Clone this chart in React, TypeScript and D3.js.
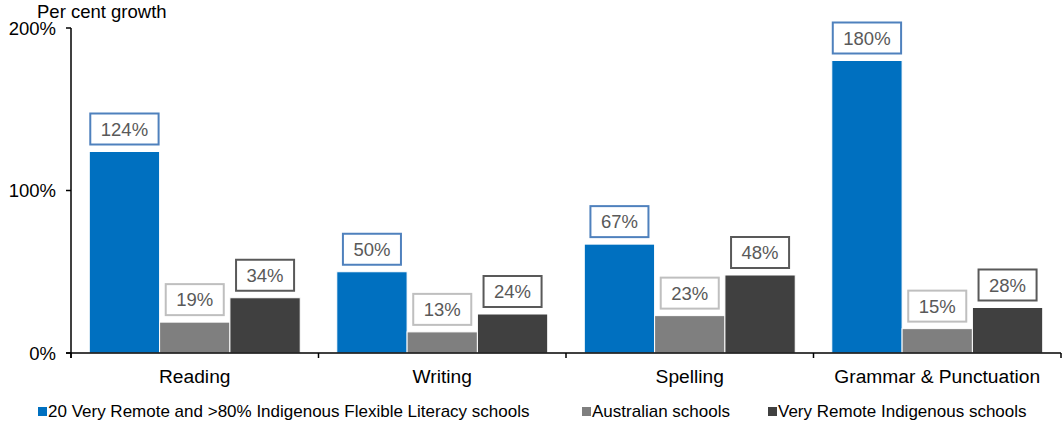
import React from "react";
import * as d3 from "d3";

const categories = ["Reading", "Writing", "Spelling", "Grammar & Punctuation"];
const seriesNames = [
  "20 Very Remote and >80% Indigenous Flexible Literacy schools",
  "Australian schools",
  "Very Remote Indigenous schools",
];
const flexibleLiteracy = [124, 50, 67, 180];
const australian = [19, 13, 23, 15];
const veryRemote = [34, 24, 48, 28];
const yTicks = [0, 100, 200];

const seriesValues = [flexibleLiteracy, australian, veryRemote];
const fills = ["#0070C0", "#7F7F7F", "#404040"];
const borders = ["#4F81BD", "#BFBFBF", "#595959"];

const W = 1062;
const H = 421;
const FONT = "'Liberation Sans', Arial, sans-serif";

function measure(text: string, size: number) {
  if (typeof document === "undefined") return text.length * size * 0.55;
  const c = document.createElement("canvas");
  const ctx = c.getContext("2d");
  if (!ctx) return text.length * size * 0.55;
  ctx.font = `${size}px 'Liberation Sans'`;
  return ctx.measureText(text).width;
}

export default function App() {
  const left = 71;
  const right = 1061;
  const top = 28;
  const bottom = 353;

  const x0 = d3.scaleBand<string>().domain(categories).range([left, right]).padding(0);
  const x1 = d3
    .scaleBand<string>()
    .domain(seriesNames)
    .range([0, x0.bandwidth()])
    .paddingInner(0)
    .paddingOuter(0.26);
  const y = d3.scaleLinear().domain([0, 200]).range([bottom, top]);

  const boundaries = [...categories.map((c) => x0(c) as number), right];

  const labelSize = 18.5;
  const boxH = 31;

  const legendItems = [
    { x: 38, name: seriesNames[0] },
    { x: 582, name: seriesNames[1] },
    { x: 768, name: seriesNames[2] },
  ];

  return (
    <svg
      width={W}
      height={H}
      style={{ position: "absolute", left: 0, top: 0, background: "#fff" }}
      fontFamily={FONT}
    >
      <rect x={0} y={0} width={W} height={H} fill="#fff" />
      <text x={37} y={18} fontSize={18.5} fill="#000">
        Per cent growth
      </text>

      {/* bars */}
      {categories.map((cat, ci) => (
        <g key={cat}>
          {seriesValues.map((vals, si) => {
            const bx = (x0(cat) as number) + (x1(seriesNames[si]) as number);
            const bw = x1.bandwidth();
            const v = vals[ci];
            return (
              <rect
                key={si}
                x={bx}
                y={y(v)}
                width={bw}
                height={y(0) - y(v)}
                fill={fills[si]}
                stroke="#fff"
                strokeWidth={1}
              />
            );
          })}
        </g>
      ))}

      {/* value label boxes */}
      {categories.map((cat, ci) => (
        <g key={cat + "-lbl"}>
          {seriesValues.map((vals, si) => {
            const bx = (x0(cat) as number) + (x1(seriesNames[si]) as number);
            const bw = x1.bandwidth();
            const v = vals[ci];
            const txt = `${v}%`;
            const tw = measure(txt, labelSize);
            const boxW = tw + 21;
            const cx = bx + bw / 2;
            const boxBottom = y(v) - 7;
            return (
              <g key={si}>
                <rect
                  x={cx - boxW / 2}
                  y={boxBottom - boxH}
                  width={boxW}
                  height={boxH}
                  fill="#fff"
                  stroke={borders[si]}
                  strokeWidth={2}
                />
                <text
                  x={cx}
                  y={boxBottom - boxH / 2 + 6.5}
                  textAnchor="middle"
                  fontSize={labelSize}
                  fill="#595959"
                >
                  {txt}
                </text>
              </g>
            );
          })}
        </g>
      ))}

      {/* y axis */}
      <line x1={left} x2={left} y1={top} y2={bottom + 5} stroke="#000" strokeWidth={1.5} />
      {yTicks.map((t) => (
        <g key={t}>
          <line x1={left - 5} x2={left} y1={y(t)} y2={y(t)} stroke="#000" strokeWidth={1.5} />
          <text x={56} y={y(t) + 6.5} textAnchor="end" fontSize={18.5} fill="#000">
            {`${t}%`}
          </text>
        </g>
      ))}

      {/* x axis */}
      <line x1={left - 5} x2={right} y1={bottom} y2={bottom} stroke="#000" strokeWidth={1.5} />
      {boundaries.map((b, i) => (
        <line key={i} x1={b} x2={b} y1={bottom} y2={bottom + 5} stroke="#000" strokeWidth={1.5} />
      ))}
      {categories.map((cat) => (
        <text
          key={cat}
          x={(x0(cat) as number) + x0.bandwidth() / 2}
          y={383}
          textAnchor="middle"
          fontSize={19.2}
          fill="#000"
        >
          {cat}
        </text>
      ))}

      {/* legend */}
      {legendItems.map((it, i) => (
        <g key={it.name}>
          <rect x={it.x} y={407} width={9} height={9} fill={fills[i]} />
          <text x={it.x + 10} y={417} fontSize={17} fill="#000">
            {it.name}
          </text>
        </g>
      ))}
    </svg>
  );
}
